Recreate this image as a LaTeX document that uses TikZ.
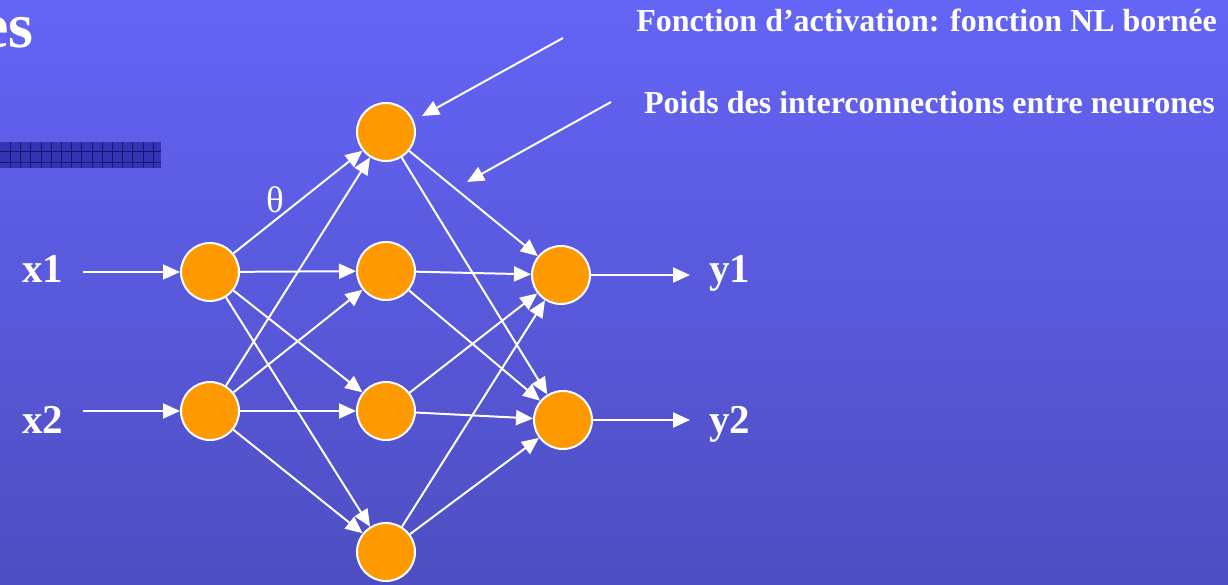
\documentclass[tikz,border=0pt]{standalone}
\usepackage{fontspec}
\setmainfont{Liberation Serif}
\usetikzlibrary{arrows.meta}
\definecolor{slidetop}{RGB}{100,100,246}
\definecolor{slidebot}{RGB}{78,78,194}
\definecolor{unitfill}{HTML}{FF9900}
\definecolor{barfill}{RGB}{52,52,180}
\definecolor{barline}{RGB}{22,22,112}

\begin{document}
\begin{tikzpicture}[x=1pt, y=-1pt,
  neuron/.style={circle, fill=unitfill, draw=white, line width=2pt, minimum size=58pt, inner sep=0pt},
  wire/.style={white, line width=2pt, -{Triangle[length=17pt, width=15pt]}},
  sig/.style={text=white, font=\fontsize{41}{48}\selectfont\bfseries, inner sep=0pt},
  note/.style={text=white, font=\fontsize{32}{38}\selectfont\bfseries, inner sep=0pt}]
\useasboundingbox (0,0) rectangle (1228,584);
\shade[top color=slidetop, bottom color=slidebot] (0,0) rectangle (1228,584);
\begin{scope}
\clip (0,0) rectangle (1228,584);
\node[anchor=base east, text=white, font=\fontsize{64}{70}\selectfont\bfseries, inner sep=0pt] (title) at (34,47) {es};
\end{scope}
\fill[barfill] (0,142) rectangle (161,168);
\foreach \gx in {0,...,14}
  \draw[barline, line width=1pt] (10.5+10.2*\gx,142) -- ++(0,26);
\draw[barline, line width=1pt] (0,151.7) -- (161,151.7) (0,162.3) -- (161,162.3);

\node[neuron] (I1) at (210,272) {};
\node[neuron] (I2) at (210,411) {};
\node[neuron] (H1) at (386,132) {};
\node[neuron] (H2) at (386,271) {};
\node[neuron] (H3) at (386,411) {};
\node[neuron] (H4) at (386,552) {};
\node[neuron] (O1) at (561,275) {};
\node[neuron] (O2) at (563,420) {};

\foreach \i in {I1,I2}
  \foreach \h in {H1,H2,H3,H4}
    \draw[wire] (\i) -- (\h);
\foreach \h in {H1,H2,H3,H4}
  \foreach \o in {O1,O2}
    \draw[wire] (\h) -- (\o);

\node[sig, anchor=base west] (x1) at (22,282) {x1};
\node[sig, anchor=base west] (x2) at (22,433) {x2};
\draw[wire, shorten <=20pt] (x1.east |- I1) -- (I1);
\draw[wire, shorten <=20pt] (x2.east |- I2) -- (I2);

\node[sig, anchor=base west] (y1) at (709,282) {y1};
\node[sig, anchor=base west] (y2) at (709,433) {y2};
\draw[wire, shorten >=19pt] (O1) -- (y1.west |- O1);
\draw[wire, shorten >=19pt] (O2) -- (y2.west |- O2);

\node[text=white, font=\fontsize{37}{42}\selectfont, inner sep=0pt] (theta) at (275,200) {θ};

\node[note, anchor=base east] (act) at (1217,31) {Fonction d’activation: fonction NL bornée};
\node[note, anchor=base east] (poids) at (1215,113) {Poids des interconnections entre neurones};
\coordinate (actTail) at (563,38);
\coordinate (actHead) at (422,116);
\coordinate (poidsTail) at (611,102);
\coordinate (poidsHead) at (467,182);
\draw[wire] (actTail) -- (actHead);
\draw[wire] (poidsTail) -- (poidsHead);
\end{tikzpicture}
\end{document}
